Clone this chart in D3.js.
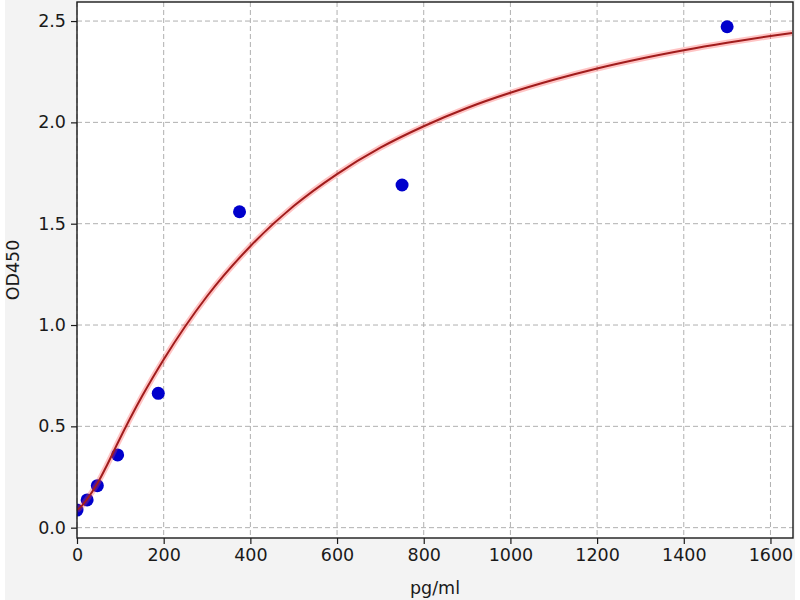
<!DOCTYPE html>
<html>
<head>
<meta charset="utf-8">
<script src="https://cdn.jsdelivr.net/npm/d3@7"></script>
<style>
  body { margin: 0; background: #ffffff; }
  text { font-family: "DejaVu Sans", sans-serif; fill: #1a1a1a; }
</style>
</head>
<body>
<svg id="chart" width="800" height="600"></svg>
<script>
// standard points
var conc = [0, 23.4, 46.9, 93.75, 187.5, 375, 750, 1500]
var od = [0.087, 0.137, 0.207, 0.359, 0.663, 1.559, 1.691, 2.472]

// fitted curve
var fitX = [0, 10, 23, 47, 70, 94, 150, 200, 300, 400, 500, 600, 700, 800, 900, 1000, 1100, 1200, 1300, 1400, 1500, 1600, 1650]
var fitY = [0.087, 0.105, 0.140, 0.218, 0.312, 0.418, 0.648, 0.830, 1.142, 1.389, 1.587, 1.745, 1.875, 1.981, 2.071, 2.146, 2.210, 2.266, 2.314, 2.356, 2.393, 2.426, 2.441]

var xTicks = [0, 200, 400, 600, 800, 1000, 1200, 1400, 1600]
var yTicks = [0.0, 0.5, 1.0, 1.5, 2.0, 2.5]

var pL = 77, pR = 793, pT = 2, pB = 538

var svg = d3.select("#chart")

svg.append("rect")
    .attr("x", 5).attr("y", 0)
    .attr("width", 790).attr("height", 600)
    .attr("fill", "#f3f3f3")

svg.append("rect")
    .attr("x", pL).attr("y", pT)
    .attr("width", pR - pL).attr("height", pB - pT)
    .attr("fill", "#ffffff")

var x = d3.scaleLinear().domain([0, 1652]).range([pL, pR])
var y = d3.scaleLinear().domain([-0.051, 2.594]).range([pB, pT])

// grid
var grid = svg.append("g").attr("stroke", "#b0b0b0").attr("stroke-width", 1)
    .attr("stroke-dasharray", "5,3")
grid.selectAll(".vg").data(xTicks).join("line").attr("class", "vg")
    .attr("x1", d => x(d)).attr("x2", d => x(d))
    .attr("y1", pT).attr("y2", pB)
grid.selectAll(".hg").data(yTicks).join("line").attr("class", "hg")
    .attr("x1", pL).attr("x2", pR)
    .attr("y1", d => y(d)).attr("y2", d => y(d))

svg.append("clipPath").attr("id", "clip")
  .append("rect")
    .attr("x", pL).attr("y", pT)
    .attr("width", pR - pL).attr("height", pB - pT)

var plot = svg.append("g").attr("clip-path", "url(#clip)")

plot.selectAll("circle")
    .data(conc)
    .join("circle")
    .attr("cx", (d, i) => x(d))
    .attr("cy", (d, i) => y(od[i]))
    .attr("r", 6.5)
    .attr("fill", "#0000cc")

var line = d3.line()
    .x(d => x(d[0]))
    .y(d => y(d[1]))
    .curve(d3.curveMonotoneX)
var fitData = fitX.map((v, i) => [v, fitY[i]])

plot.append("path")
    .attr("d", line(fitData))
    .attr("fill", "none")
    .attr("stroke", "rgba(255,60,60,0.3)")
    .attr("stroke-width", 6)
plot.append("path")
    .attr("d", line(fitData))
    .attr("fill", "none")
    .attr("stroke", "#a11d1d")
    .attr("stroke-width", 2)

// axes
var xAxis = svg.append("g")
    .attr("transform", `translate(0,${pB})`)
    .call(d3.axisBottom(x).tickValues(xTicks).tickSize(6).tickPadding(5).tickFormat(d3.format("d")))
var yAxis = svg.append("g")
    .attr("transform", `translate(${pL},0)`)
    .call(d3.axisLeft(y).tickValues(yTicks).tickSize(6).tickPadding(5).tickFormat(d3.format(".1f")))

for (const ax of [xAxis, yAxis]) {
    ax.select(".domain").remove()
    ax.selectAll(".tick line").attr("stroke", "#1a1a1a").attr("stroke-width", 1.2)
    ax.selectAll(".tick text").style("font-size", "17.5px").attr("fill", "#1a1a1a")
}

svg.append("rect")
    .attr("x", pL).attr("y", pT)
    .attr("width", pR - pL).attr("height", pB - pT)
    .attr("fill", "none")
    .attr("stroke", "#1a1a1a")
    .attr("stroke-width", 1.4)

svg.append("text")
    .attr("x", (pL + pR) / 2)
    .attr("y", 594)
    .attr("text-anchor", "middle")
    .style("font-size", "17.5px")
    .text("pg/ml")

svg.append("text")
    .attr("transform", `translate(19,${(pT + pB) / 2}) rotate(-90)`)
    .attr("text-anchor", "middle")
    .style("font-size", "17.5px")
    .text("OD450")
</script>
</body>
</html>
